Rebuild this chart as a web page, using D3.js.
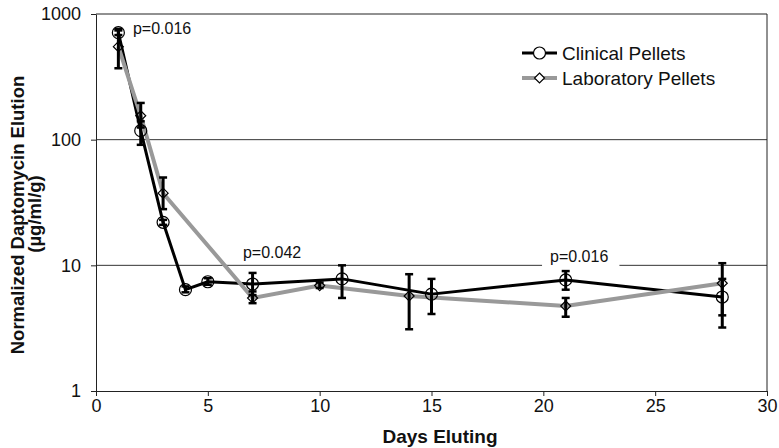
<!DOCTYPE html>
<html><head><meta charset="utf-8">
<script src="https://cdn.jsdelivr.net/npm/d3@7"></script>
<style>
body{margin:0;background:#fff;}
svg{display:block;font-family:"Liberation Sans",Arial,sans-serif;}
</style></head>
<body><svg id="c" width="779" height="448"></svg>
<script>
// Data
const clinicalDays = [1, 2, 3, 4, 5, 7, 11, 15, 21, 28];
const clinicalVals = [710, 118, 22, 6.4, 7.4, 7.1, 7.8, 5.9, 7.65, 5.6];
const clinicalLo   = [680, 91, 21, 6.1, 7.0, 5.8, 5.5, 4.1, 6.4, 3.2];
const clinicalHi   = [760, 140, 23, 6.8, 7.9, 8.7, 10.0, 7.8, 9.0, 7.8];
const labDays = [1, 2, 3, 7, 10, 14, 21, 28];
const labVals = [550, 155, 37.5, 5.5, 6.9, 5.7, 4.75, 7.2];
const labLo   = [370, 125, 28, 5.0, 6.6, 3.1, 3.9, 4.0];
const labHi   = [740, 196, 50, 6.2, 7.3, 8.5, 5.5, 10.4];
const xTicks = [0, 5, 10, 15, 20, 25, 30];
const yTicks = [1, 10, 100, 1000];
const annotations = [
  {day: 1.65, val: 690, text: "p=0.016", bg: false},
  {day: 6.57, val: 11.4, text: "p=0.042", bg: false},
  {day: 20.3, val: 10.65, text: "p=0.016", bg: true}
];
const seriesNames = ["Clinical Pellets", "Laboratory Pellets"];

const svg = d3.select("#c");
const x = d3.scaleLinear().domain([0, 30]).range([96, 767]);
const y = d3.scaleLog().domain([1, 1000]).range([391, 14]);

// gridlines
svg.append("g").selectAll("line").data([10, 100]).join("line")
  .attr("x1", x(0)).attr("x2", x(30)).attr("y1", d => y(d)).attr("y2", d => y(d))
  .attr("stroke", "#333").attr("stroke-width", 1);
// frame top/right
svg.append("line").attr("x1", x(0)).attr("x2", x(30)).attr("y1", y(1000)).attr("y2", y(1000)).attr("stroke", "#222");
svg.append("line").attr("x1", x(30)).attr("x2", x(30)).attr("y1", y(1000)).attr("y2", y(1)).attr("stroke", "#222");

// axes
const xa = svg.append("g").attr("transform", `translate(0,${y(1)})`)
  .call(d3.axisBottom(x).tickValues(xTicks).tickSize(5).tickPadding(3).tickSizeOuter(0));
const ya = svg.append("g").attr("transform", `translate(${x(0)},0)`)
  .call(d3.axisLeft(y).tickValues(yTicks).tickFormat(d3.format("d")).tickSize(5).tickPadding(10).tickSizeOuter(0));
[xa, ya].forEach(a => {
  a.selectAll("path,line").attr("stroke", "#222");
  a.selectAll("text").attr("font-size", 18).attr("fill", "#111").attr("font-family", "Liberation Sans, Arial, sans-serif");
});

// annotations
const annG = svg.append("g");
annotations.forEach(a => {
  const grp = annG.append("g");
  const bgRect = grp.append("rect").attr("fill", "#fff");
  const t = grp.append("text").attr("x", x(a.day)).attr("y", y(a.val))
    .attr("font-size", 16).attr("fill", "#111").text(a.text);
  if (a.bg) {
    const bb = t.node().getBBox();
    bgRect.attr("x", bb.x - 8).attr("y", bb.y).attr("width", bb.width + 19).attr("height", bb.height + 3);
  } else bgRect.remove();
});

const line = d3.line().x(d => x(d[0])).y(d => y(d[1]));
const cData = clinicalDays.map((d, i) => [d, clinicalVals[i]]);
const lData = labDays.map((d, i) => [d, labVals[i]]);

svg.append("path").datum(cData).attr("d", line).attr("fill", "none").attr("stroke", "#000").attr("stroke-width", 3).attr("stroke-linejoin", "round");
svg.append("path").datum(lData).attr("d", line).attr("fill", "none").attr("stroke", "#999").attr("stroke-width", 4).attr("stroke-linejoin", "round");

// error bars
function errBars(days, lo, hi) {
  const g = svg.append("g").attr("stroke", "#000").attr("stroke-width", 3);
  days.forEach((d, i) => {
    g.append("line").attr("x1", x(d)).attr("x2", x(d)).attr("y1", y(lo[i])).attr("y2", y(hi[i]));
    [lo[i], hi[i]].forEach(v => g.append("line").attr("x1", x(d) - 4).attr("x2", x(d) + 4).attr("y1", y(v)).attr("y2", y(v)).attr("stroke-width", 2.5));
  });
}
errBars(clinicalDays, clinicalLo, clinicalHi);
errBars(labDays, labLo, labHi);

// markers
svg.append("g").selectAll("circle").data(cData).join("circle")
  .attr("cx", d => x(d[0])).attr("cy", d => y(d[1])).attr("r", 6)
  .attr("fill", "none").attr("stroke", "#000").attr("stroke-width", 1.2);
const diamond = (cx, cy, s) => `M${cx},${cy - s}L${cx + s},${cy}L${cx},${cy + s}L${cx - s},${cy}Z`;
svg.append("g").selectAll("path").data(lData).join("path")
  .attr("d", d => diamond(x(d[0]), y(d[1]), 5))
  .attr("fill", "none").attr("stroke", "#000").attr("stroke-width", 1.2);

// legend
const lg = svg.append("g");
[0, 1].forEach(i => {
  const ly = 53 + i * 25;
  lg.append("line").attr("x1", 522).attr("x2", 557).attr("y1", ly).attr("y2", ly)
    .attr("stroke", i === 0 ? "#000" : "#999").attr("stroke-width", i === 0 ? 3 : 4);
  if (i === 0) lg.append("circle").attr("cx", 539.5).attr("cy", ly).attr("r", 6).attr("fill", "#fff").attr("stroke", "#000").attr("stroke-width", 1.2);
  else lg.append("path").attr("d", diamond(539.5, ly, 5)).attr("fill", "#fff").attr("stroke", "#000").attr("stroke-width", 1.2);
  lg.append("text").attr("x", 562).attr("y", ly + 7)
    .attr("font-size", 19).attr("fill", "#111").text(seriesNames[i]);
});

// axis titles
svg.append("text").attr("x", 440).attr("y", 443).attr("text-anchor", "middle")
  .attr("font-size", 19).attr("font-weight", "bold").attr("fill", "#111").text("Days Eluting");
svg.append("text").attr("transform", "translate(24,215) rotate(-90)").attr("text-anchor", "middle")
  .attr("font-size", 18.5).attr("font-weight", "bold").attr("fill", "#111")
  .text("Normalized Daptomycin Elution");
svg.append("text").attr("transform", "translate(41,214) rotate(-90)").attr("text-anchor", "middle")
  .attr("font-size", 18.5).attr("font-weight", "bold").attr("fill", "#111")
  .text("(µg/ml/g)");
</script></body></html>
